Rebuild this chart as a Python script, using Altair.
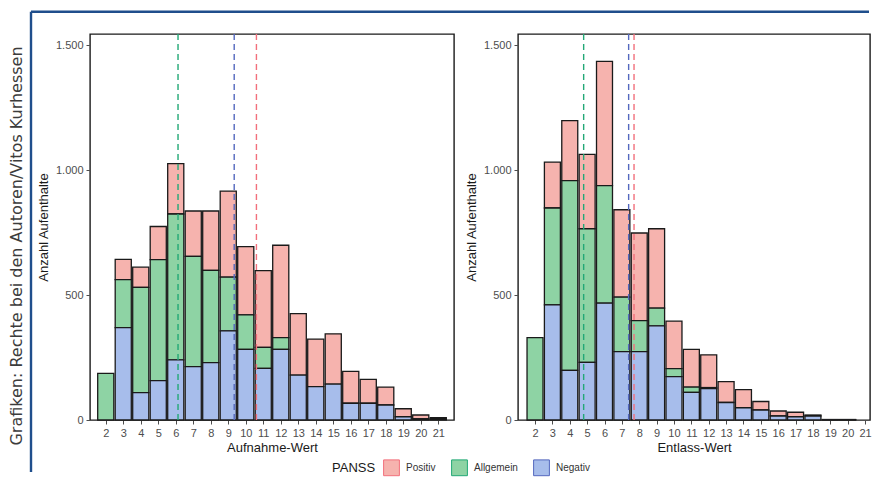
import altair as alt
import pandas as pd

werte = list(range(2, 22))
kategorien = ["Positiv", "Allgemein", "Negativ"]
stapel_ordnung = {"Negativ": 0, "Allgemein": 1, "Positiv": 2}
farben = ["#F6B3AE", "#8ED3A4", "#A7BDEB"]
linien_farben = ["#F2707C", "#22A876", "#5468BE"]

# Aufnahme (left panel), counts per category (stacked segments)
auf_negativ = [0, 370, 110, 158, 241, 214, 230, 357, 283, 207, 283, 180, 134, 144, 67, 67, 60, 13, 5, 3]
auf_allgemein = [187, 192, 421, 484, 584, 441, 369, 215, 138, 84, 47, 0, 0, 0, 0, 0, 0, 0, 0, 0]
auf_positiv = [0, 81, 81, 133, 202, 182, 238, 345, 273, 307, 370, 246, 190, 201, 128, 96, 72, 32, 15, 6]

# Entlassung (right panel)
ent_negativ = [0, 461, 199, 231, 468, 274, 274, 377, 174, 111, 126, 70, 49, 40, 16, 13, 16, 1, 1, 0]
ent_allgemein = [330, 388, 760, 535, 471, 218, 124, 71, 32, 21, 4, 0, 0, 0, 0, 0, 0, 0, 0, 0]
ent_positiv = [0, 184, 240, 298, 497, 350, 351, 318, 190, 151, 131, 84, 73, 34, 20, 18, 4, 1, 1, 0]

# mean values (dashed lines), order: Positiv, Allgemein, Negativ
auf_mittel = [10.61, 6.13, 9.34]
ent_mittel = [7.70, 4.80, 7.39]

y_ticks = [0, 500, 1000, 1500]
credit = "Grafiken: Rechte bei den Autoren/Vitos Kurhessen"


def long_df(pos, allg, neg):
    rows = []
    for k, vals in (("Positiv", pos), ("Allgemein", allg), ("Negativ", neg)):
        for w, v in zip(werte, vals):
            rows.append({"wert": w, "kategorie": k, "anzahl": v, "ord": stapel_ordnung[k]})
    return pd.DataFrame(rows)


def panel(df, mittel, xtitle, width, xdomain, extras=None):
    xscale = alt.Scale(domain=xdomain, nice=False, zero=False)
    yscale = alt.Scale(domain=[0, 1546], nice=False)
    x_axis = alt.Axis(title=xtitle, values=werte, format="d",
                      labelOverlap=False, labelFlush=False)
    bars = (
        alt.Chart(df)
        .transform_stack(
            stack="anzahl", groupby=["wert"], as_=["y0", "y1"],
            sort=[alt.SortField("ord", order="ascending")],
        )
        .transform_filter("datum.anzahl > 0")
        .transform_calculate(xa="datum.wert - 0.46", xb="datum.wert + 0.46")
        .mark_bar(stroke="#1a1a1a", strokeWidth=1.3)
        .encode(
            x=alt.X("xa:Q", scale=xscale, axis=x_axis),
            x2="xb:Q",
            y=alt.Y("y0:Q", scale=yscale,
                    axis=alt.Axis(title="Anzahl Aufenthalte", values=y_ticks,
                                  labelExpr="replace(format(datum.value, ','), ',', '.')")),
            y2="y1:Q",
            fill=alt.Fill(
                "kategorie:N",
                scale=alt.Scale(domain=kategorien, range=farben),
                legend=alt.Legend(
                    title="PANSS", orient="none", legendX=242, legendY=425,
                    direction="horizontal", titleOrient="left",
                    symbolType="square", symbolSize=250,
                    symbolStrokeColor="#555555", symbolStrokeWidth=1,
                    symbolOpacity=1, labelFontSize=10, labelColor="#333333",
                    titleFontSize=13, titleFontWeight="normal", titleColor="#1a1a1a",
                    titlePadding=7, labelOffset=6, columnPadding=13,
                    titleFont="Liberation Sans", labelFont="Liberation Sans",
                ),
            ),
        )
    )
    mdf = pd.DataFrame({"kategorie": kategorien, "mittel": mittel})
    rules = (
        alt.Chart(mdf)
        .mark_rule(strokeDash=[6, 4], strokeWidth=1.4)
        .encode(
            x=alt.X("mittel:Q", scale=xscale, axis=x_axis),
            stroke=alt.Stroke("kategorie:N",
                              scale=alt.Scale(domain=kategorien, range=linien_farben),
                              legend=None),
        )
    )
    layers = [bars, rules]
    if extras:
        layers += extras
    return alt.layer(*layers).properties(width=width, height=386)


frame_color = "#1F4E8C"
frame_v = (
    alt.Chart(pd.DataFrame({"a": [0]}))
    .mark_rule(color=frame_color, strokeWidth=2.4)
    .encode(x=alt.value(-59), y=alt.value(-22.2), y2=alt.value(438))
)
frame_h = (
    alt.Chart(pd.DataFrame({"a": [0]}))
    .mark_rule(color=frame_color, strokeWidth=2.4)
    .encode(x=alt.value(-59), x2=alt.value(779), y=alt.value(-22.2))
)
credit_text = (
    alt.Chart(pd.DataFrame({"t": [credit]}))
    .mark_text(angle=270, font="DejaVu Sans", fontSize=16, color="#3c3c3c",
               baseline="middle", align="center")
    .encode(text="t:N", x=alt.value(-73), y=alt.value(212))
)

left = panel(long_df(auf_positiv, auf_allgemein, auf_negativ), auf_mittel,
             "Aufnahme-Wert", 364, [1.1, 21.9], [frame_v, frame_h, credit_text])
right = panel(long_df(ent_positiv, ent_allgemein, ent_negativ), ent_mittel,
              "Entlass-Wert", 352, [1.02, 21.285])

chart = (
    alt.hconcat(left, right, spacing=64, bounds="flush")
    .resolve_scale(fill="shared", stroke="shared")
    .configure(padding={"left": 0, "top": 1, "right": 0, "bottom": 0},
               font="Liberation Sans")
    .configure_view(stroke="#1a1a1a", strokeWidth=1.4)
    .configure_axis(
        grid=False, domain=False, tickColor="#4d4d4d", tickSize=4, tickWidth=1,
        labelColor="#4d4d4d", labelFontSize=11, labelFont="Liberation Sans",
        titleFont="Liberation Sans", titleFontSize=13, titleFontWeight="normal",
        titleColor="#1a1a1a", labelPadding=3,
    )
    .configure_axisX(titlePadding=3)
    .configure_axisY(titlePadding=5)
)

chart.save("out.html", embed_options={"renderer": "svg", "actions": False})
